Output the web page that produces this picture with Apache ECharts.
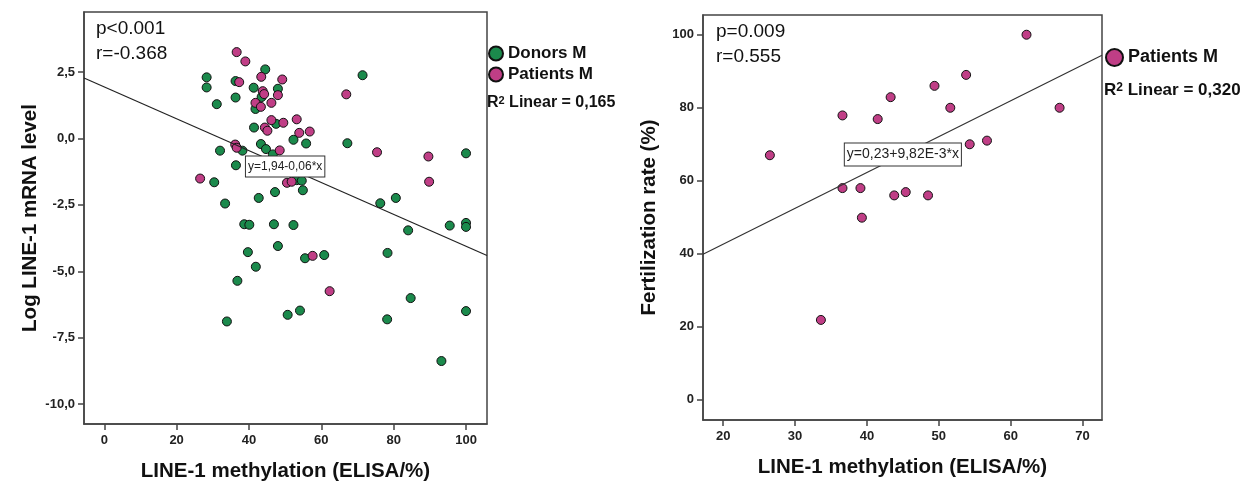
<!DOCTYPE html>
<html lang="en">
<head>
    <meta charset="UTF-8">
    <title>LINE-1 methylation scatter plots</title>
    <script src="https://cdnjs.cloudflare.com/ajax/libs/echarts/6.0.0/echarts.min.js"></script>
    <style>
        body { margin: 0; background: #fff; }
        #chart { width: 1252px; height: 482px; }
    </style>
</head>
<body>
<div id="chart"></div>
<script>
    // left panel: LINE-1 methylation vs log LINE-1 mRNA
    const donorsX = [28.3, 28.3, 31.1, 32.0, 30.4, 33.4, 36.3, 36.3, 36.4, 38.2, 41.3, 44.5, 43.5, 48.0, 41.8,
        41.4, 47.5, 43.3, 44.7, 46.6, 52.3, 55.8, 53.2, 54.6, 54.9, 47.2, 42.7, 38.7, 40.1, 46.9, 52.3, 71.4,
        67.2, 100.0, 76.3, 80.6, 84.0, 95.5, 100.0, 100.0, 78.3, 33.9, 36.8, 39.7, 41.9, 48.0, 50.7, 54.1,
        55.5, 60.8, 78.2, 84.7, 100.0, 93.2];
    const donorsY = [2.30, 1.92, 1.29, -0.46, -1.65, -2.45, 2.16, 1.54, -1.01, -0.46, 1.91, 2.60, 1.56, 1.87, 1.11,
        0.41, 0.55, -0.21, -0.40, -0.60, -0.05, -0.19, -1.57, -1.59, -1.95, -2.02, -2.24, -3.23, -3.25, -3.23, -3.26, 2.38,
        -0.18, -0.56, -2.44, -2.24, -3.46, -3.28, -3.18, -3.33, -4.31, -6.89, -5.36, -4.28, -4.83, -4.05, -6.64, -6.48,
        -4.51, -4.39, -6.81, -6.01, -6.50, -8.38];
    const patientsX = [36.6, 39.0, 37.3, 43.4, 49.2, 43.8, 44.2, 48.0, 41.8, 43.3, 46.2, 46.2, 49.5, 53.2, 44.4,
        45.1, 53.9, 56.8, 66.9, 36.2, 36.6, 48.5, 26.5, 50.5, 51.8, 75.4, 89.6, 89.8, 57.6, 62.3];
    const patientsY = [3.25, 2.90, 2.12, 2.32, 2.22, 1.78, 1.67, 1.63, 1.34, 1.19, 1.34, 0.69, 0.59, 0.72, 0.41,
        0.29, 0.21, 0.26, 1.66, -0.23, -0.35, -0.45, -1.51, -1.67, -1.63, -0.52, -0.68, -1.63, -4.42, -5.75];
    const leftFit = [1.94, -0.06];   // intercept, slope
    const leftXTicks = [0, 20, 40, 60, 80, 100];
    const leftYTicks = [-10, -7.5, -5, -2.5, 0, 2.5];

    // right panel: LINE-1 methylation vs fertilization rate
    const fertX = [26.5, 33.6, 36.6, 36.6, 39.1, 39.3, 41.5, 43.3, 43.8, 45.4, 48.5, 49.4, 51.6, 53.8, 54.3, 56.7, 62.2, 66.8];
    const fertY = [67.0, 21.9, 77.9, 58.0, 58.0, 49.9, 76.9, 82.9, 56.0, 56.9, 56.0, 86.0, 80.0, 89.0, 70.0, 71.0, 100.0, 80.0];
    const rightFit = [23, 0.982];
    const rightXTicks = [20, 30, 40, 50, 60, 70];
    const rightYTicks = [0, 20, 40, 60, 80, 100];

    const green = '#1b8a4c';
    const pink = '#c03e86';
    const tickFont = { fontFamily: 'Liberation Sans', fontWeight: 'bold', fontSize: 13, color: '#222' };
    const titleFont = { fontFamily: 'Liberation Sans', fontWeight: 'bold', fontSize: 20.5, color: '#111' };

    const zip = (xs, ys) => xs.map((x, i) => [x, ys[i]]);

    const L = { xmin: -5.6, xmax: 105.8, ymin: -10.75, ymax: 4.76 };
    const R = { xmin: 17.2, xmax: 72.7, ymin: -5.5, ymax: 105.4 };

    function fitLine(fit, xmin, xmax) {
        return [[xmin, fit[0] + fit[1] * xmin], [xmax, fit[0] + fit[1] * xmax]];
    }

    function makeX(idx, r, ticks) {
        return {
            gridIndex: idx, type: 'value', min: r.xmin, max: r.xmax,
            name: 'LINE-1 methylation (ELISA/%)', nameLocation: 'middle', nameGap: 37, nameTextStyle: titleFont,
            splitLine: { show: false },
            axisLine: { onZero: false, lineStyle: { color: '#444', width: 1.5 } },
            axisTick: { length: 6, customValues: ticks, lineStyle: { color: '#444', width: 1.5 } },
            axisLabel: Object.assign({ customValues: ticks, margin: 10 }, tickFont)
        };
    }
    function makeY(idx, r, ticks, name, fmt) {
        return {
            gridIndex: idx, type: 'value', min: r.ymin, max: r.ymax,
            name: name, nameLocation: 'middle', nameGap: 43, nameTextStyle: titleFont,
            splitLine: { show: false },
            axisLine: { onZero: false, lineStyle: { color: '#444', width: 1.5 } },
            axisTick: { length: 6, customValues: ticks, lineStyle: { color: '#444', width: 1.5 } },
            axisLabel: Object.assign({ customValues: ticks, margin: 9, formatter: fmt }, tickFont)
        };
    }

    const boxLabel = (size, text) => ({
        show: true, position: 'inside', color: '#222', fontFamily: 'Liberation Sans', fontSize: size,
        backgroundColor: '#fff', borderColor: '#333', borderWidth: 1, padding: [4, 2], formatter: text
    });

    const chart = echarts.init(document.getElementById('chart'));
    chart.setOption({
        animation: false,
        grid: [
            { left: 84, top: 12, width: 403, height: 412, show: true, borderColor: '#444', borderWidth: 1.5, outerBoundsMode: 'none' },
            { left: 703, top: 15, width: 399, height: 405, show: true, borderColor: '#444', borderWidth: 1.5, outerBoundsMode: 'none' }
        ],
        xAxis: [makeX(0, L, leftXTicks), makeX(1, R, rightXTicks)],
        yAxis: [
            makeY(0, L, leftYTicks, 'Log LINE-1 mRNA level', v => v.toFixed(1).replace('.', ',')),
            makeY(1, R, rightYTicks, 'Fertilization rate (%)', v => String(v))
        ],
        legend: [
            {
                data: ['Donors M', 'Patients M'], orient: 'vertical', left: 488, top: 45, padding: 0,
                icon: 'circle', itemWidth: 14, itemHeight: 14, itemGap: 4,
                textStyle: { fontFamily: 'Liberation Sans', fontWeight: 'bold', fontSize: 17, color: '#111' }
            },
            {
                data: ['Patients M'], left: 1105, top: 48, padding: 0,
                icon: 'circle', itemWidth: 17, itemHeight: 17,
                textStyle: { fontFamily: 'Liberation Sans', fontWeight: 'bold', fontSize: 18, color: '#111' }
            }
        ],
        series: [
            {
                name: 'Donors M', type: 'scatter', xAxisIndex: 0, yAxisIndex: 0, symbolSize: 9,
                itemStyle: { color: green, borderColor: '#111', borderWidth: 1, opacity: 1 },
                data: zip(donorsX, donorsY)
            },
            {
                name: 'Patients M', type: 'scatter', xAxisIndex: 0, yAxisIndex: 0, symbolSize: 9,
                itemStyle: { color: pink, borderColor: '#111', borderWidth: 1, opacity: 1 },
                data: zip(patientsX, patientsY)
            },
            {
                type: 'line', xAxisIndex: 0, yAxisIndex: 0, symbol: 'none', silent: true,
                lineStyle: { color: '#222', width: 1.2 },
                data: fitLine(leftFit, L.xmin, L.xmax),
                markPoint: {
                    symbolSize: 0,
                    data: [{ coord: [50, leftFit[0] + leftFit[1] * 50] }],
                    label: boxLabel(12, 'y=1,94-0,06*x')
                }
            },
            {
                name: 'Patients M', type: 'scatter', xAxisIndex: 1, yAxisIndex: 1, symbolSize: 9,
                itemStyle: { color: pink, borderColor: '#111', borderWidth: 1, opacity: 1 },
                data: zip(fertX, fertY)
            },
            {
                type: 'line', xAxisIndex: 1, yAxisIndex: 1, symbol: 'none', silent: true,
                lineStyle: { color: '#333', width: 1.2 },
                data: fitLine(rightFit, R.xmin, R.xmax),
                markPoint: {
                    symbolSize: 0,
                    data: [{ coord: [45, rightFit[0] + rightFit[1] * 45] }],
                    label: boxLabel(14, 'y=0,23+9,82E-3*x')
                }
            }
        ],
        graphic: [
            { type: 'text', left: 96, top: 19, style: { text: 'p<0.001', font: '19px Liberation Sans', fill: '#111' } },
            { type: 'text', left: 96, top: 44, style: { text: 'r=-0.368', font: '19px Liberation Sans', fill: '#111' } },
            { type: 'text', left: 716, top: 22, style: { text: 'p=0.009', font: '19px Liberation Sans', fill: '#111' } },
            { type: 'text', left: 716, top: 47, style: { text: 'r=0.555', font: '19px Liberation Sans', fill: '#111' } },
            {
                type: 'text', left: 487, top: 95,
                style: {
                    text: '{r|R}{s|2}{r| Linear = 0,165}',
                    rich: {
                        r: { fontFamily: 'Liberation Sans', fontWeight: 'bold', fontSize: 16, fill: '#111' },
                        s: { fontFamily: 'Liberation Sans', fontWeight: 'bold', fontSize: 11, fill: '#111', verticalAlign: 'top' }
                    }
                }
            },
            {
                type: 'text', left: 1104, top: 82,
                style: {
                    text: '{r|R}{s|2}{r| Linear = 0,320}',
                    rich: {
                        r: { fontFamily: 'Liberation Sans', fontWeight: 'bold', fontSize: 17, fill: '#111' },
                        s: { fontFamily: 'Liberation Sans', fontWeight: 'bold', fontSize: 12, fill: '#111', verticalAlign: 'top' }
                    }
                }
            }
        ]
    });
</script>
</body>
</html>
